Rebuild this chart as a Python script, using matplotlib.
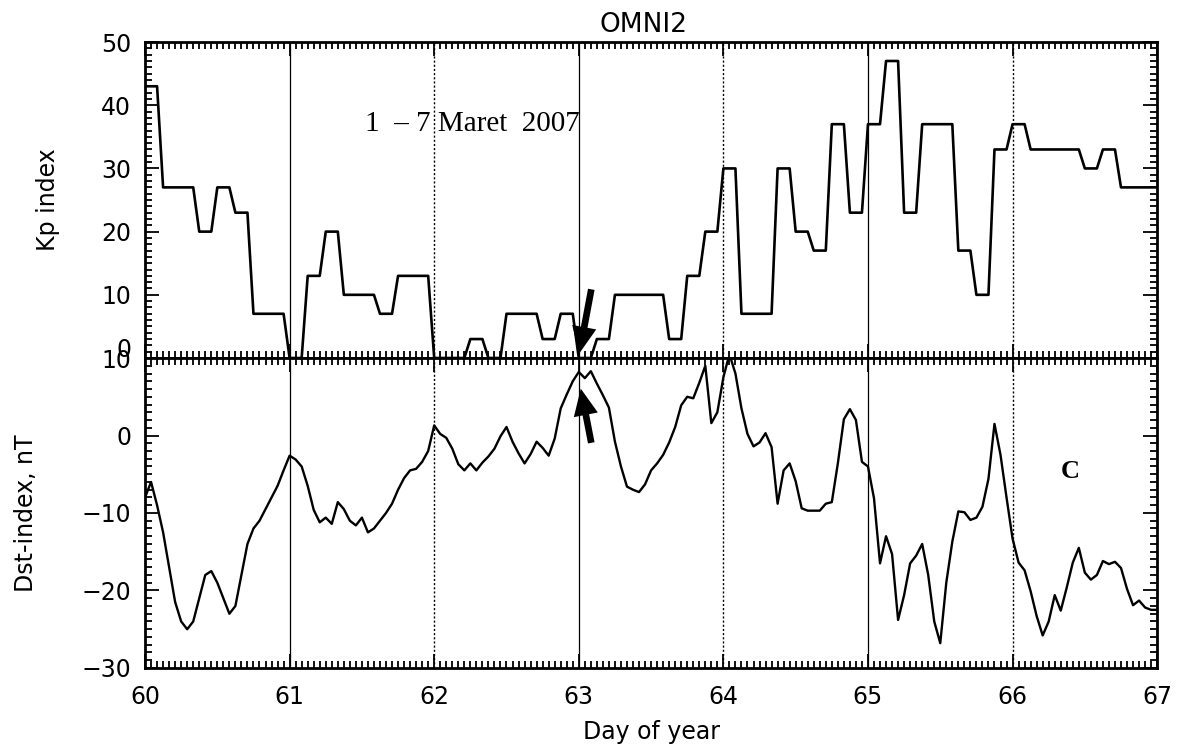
import numpy as np
import matplotlib
matplotlib.use("Agg")
import matplotlib.pyplot as plt
from matplotlib.ticker import MultipleLocator

# Kp index (x10), one value per 3-hour block, days 60-66 (+1 block at the end)
kp_day60 = [43, 27, 27, 20, 27, 23, 7, 7]
kp_day61 = [0, 13, 20, 10, 10, 7, 13, 13]
kp_day62 = [0, 0, 3, 0, 7, 7, 3, 7]
kp_day63 = [0, 3, 10, 10, 10, 3, 13, 20]
kp_day64 = [30, 7, 7, 30, 20, 17, 37, 23]
kp_day65 = [37, 47, 23, 37, 37, 17, 10, 33]
kp_day66 = [37, 33, 33, 33, 30, 33, 27, 27]
kp_tail = [27]

# Dst index (nT), hourly values
dst_day60 = [-8, -6, -9, -12.5, -17, -21.5, -24, -25, -24, -21, -18, -17.5,
             -19, -21, -23, -22, -18, -14, -12, -11, -9.5, -8, -6.5, -4.5]
dst_day61 = [-2.6, -3.1, -4, -6.5, -9.6, -11.2, -10.6, -11.4, -8.6, -9.5, -11, -11.6,
             -10.6, -12.5, -12, -11, -10, -8.8, -7, -5.5, -4.5, -4.3, -3.4, -2]
dst_day62 = [1.3, 0.2, -0.3, -1.7, -3.7, -4.5, -3.6, -4.5, -3.5, -2.7, -1.7, -0.1,
             1.1, -0.8, -2.3, -3.6, -2.4, -0.8, -1.6, -2.6, -0.4, 3.5, 5.3, 7.0]
dst_day63 = [8.2, 7.4, 8.3, 6.7, 5.2, 3.6, -0.8, -4.0, -6.6, -7.0, -7.3, -6.3,
             -4.5, -3.6, -2.5, -0.9, 1.1, 3.9, 5.0, 4.8, 6.8, 9.0, 1.6, 3.0]
dst_day64 = [7.5, 10.5, 8, 3.5, 0.2, -1.4, -0.9, 0.3, -1.5, -8.8, -4.5, -3.6,
             -5.9, -9.4, -9.7, -9.7, -9.7, -8.8, -8.6, -3.6, 2.1, 3.4, 2.0, -3.4]
dst_day65 = [-4.0, -8.1, -16.5, -13, -15.3, -23.8, -20.6, -16.5, -15.5, -14.0, -18, -24,
             -26.8, -19, -13.7, -9.8, -9.9, -10.9, -10.6, -9.2, -5.6, 1.5, -2.5, -8]
dst_day66 = [-13.3, -16.4, -17.4, -20.1, -23.3, -25.8, -24, -20.6, -22.6, -19.6, -16.4, -14.5,
             -17.7, -18.6, -18.0, -16.2, -16.6, -16.3, -17.1, -19.8, -21.9, -21.3, -22.2, -22.5]
dst_tail = [-22.5]

day_ticks = [60, 61, 62, 63, 64, 65, 66, 67]
solid_days = [61, 63, 65]
dotted_days = [62, 64, 66]
kp_ticks = [0, 10, 20, 30, 40, 50]
dst_ticks = [-30, -20, -10, 0, 10]


def main():
    kp = np.array(kp_day60 + kp_day61 + kp_day62 + kp_day63 + kp_day64
                  + kp_day65 + kp_day66 + kp_tail, dtype=float)
    kp_hourly = np.repeat(kp, 3)  # 3-hour values, one point per hour
    t_kp = 60 + np.arange(kp_hourly.size) / 24.0

    dst = np.array(dst_day60 + dst_day61 + dst_day62 + dst_day63 + dst_day64
                   + dst_day65 + dst_day66 + dst_tail)
    t_dst = 60 + np.arange(dst.size) / 24.0

    plt.rcParams['font.family'] = ['DejaVu Sans']
    fig = plt.figure(figsize=(11.81, 7.44), dpi=100)
    ax1 = fig.add_axes([0.1228, 0.5188, 0.857, 0.4247])
    ax2 = fig.add_axes([0.1228, 0.1022, 0.857, 0.4166])

    ax1.plot(t_kp, kp_hourly, color='black', lw=1.9)
    ax2.plot(t_dst, dst, color='black', lw=1.7)

    for ax in (ax1, ax2):
        for d in solid_days:
            ax.axvline(d, color='black', lw=0.9)
        for d in dotted_days:
            ax.axvline(d, color='black', lw=1.0, ls=(0, (1.5, 1.5)))
        ax.set_xlim(60, 67)
        ax.set_xticks(day_ticks)
        ax.xaxis.set_minor_locator(MultipleLocator(1 / 24.0))
        ax.yaxis.set_minor_locator(MultipleLocator(1))
        ax.tick_params(which='both', direction='in', top=True, right=True,
                       labelsize=17, width=1.3)
        ax.tick_params(axis='y', pad=10)
        ax.tick_params(which='major', length=10)
        ax.tick_params(which='minor', length=5)
        for s in ax.spines.values():
            s.set_linewidth(2)

    # top panel: the "0" label sits a little above the shared edge
    ax1.set_ylim(0, 50)
    ax1.set_yticks(kp_ticks)
    ax1.set_yticklabels([''] + [str(v) for v in kp_ticks[1:]])
    ax1.annotate('0', xy=(0, 0), xycoords='axes fraction', xytext=(-10, 6),
                 textcoords='offset points', ha='right', va='center', fontsize=17)
    ax1.tick_params(labelbottom=False)
    ax1.set_ylabel("Kp index", fontsize=17)
    ax1.yaxis.set_label_coords(-0.084, 0.5)

    ax2.set_ylim(-30, 10)
    ax2.set_yticks(dst_ticks)
    ax2.set_yticklabels(['\u221230', '\u221220', '\u221210', '0', '10'])
    ax2.set_ylabel("Dst-index, nT", fontsize=17)
    ax2.yaxis.set_label_coords(-0.106, 0.5)
    ax2.set_xlabel("Day of year", fontsize=17, labelpad=8)
    ax2.tick_params(axis='x', pad=12)

    fig.text(0.545, 0.967, "OMNI2", fontsize=19, ha='center', va='center')

    ax1.text(61.52, 37, "1  \u2013 7 Maret  2007", fontsize=21,
             family='Liberation Serif', va='center', ha='left')
    ax2.text(66.40, -4.7, "C", fontsize=19, family='Liberation Serif',
             weight='bold', va='center', ha='center')

    arrow = dict(arrowstyle='simple,head_width=1.1,head_length=1.2,tail_width=0.3',
                 mutation_scale=16, color='black', lw=0)
    ax1.annotate("", xy=(63.0, 0.3), xytext=(63.09, 11.3), arrowprops=arrow)
    ax2.annotate("", xy=(63.01, 6.4), xytext=(63.09, -1.3), arrowprops=arrow)

    fig.savefig("out.png", dpi=100)
    plt.close(fig)


if __name__ == "__main__":
    main()
